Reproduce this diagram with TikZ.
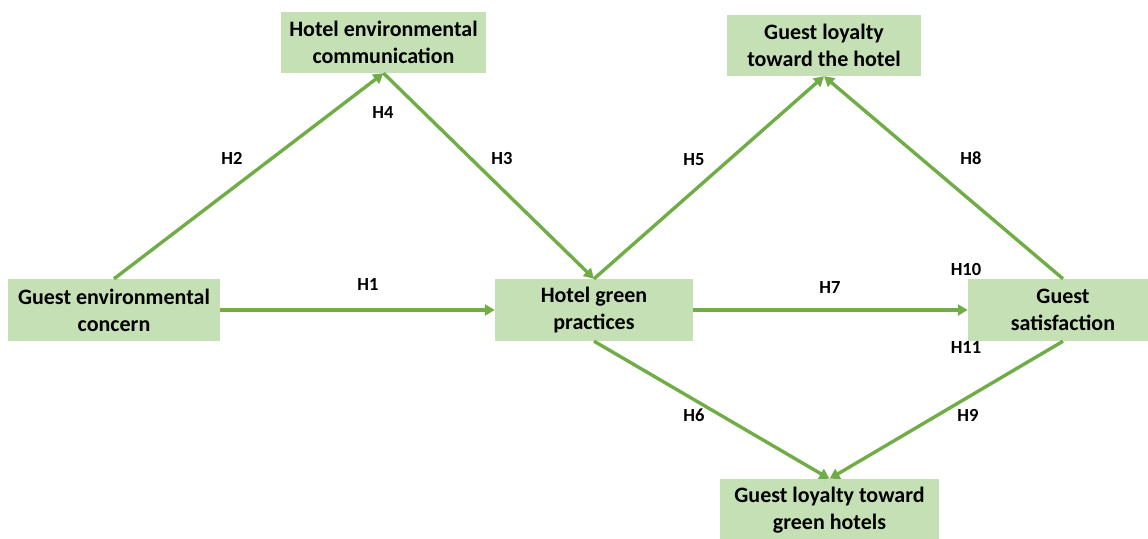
\documentclass[tikz,border=0pt]{standalone}
\usepackage{fontspec}
\setmainfont{Carlito}
\usetikzlibrary{arrows.meta}
\definecolor{boxgreen}{HTML}{C5E0B4}
\definecolor{arrowgreen}{HTML}{70AD47}
\tikzset{
  varbox/.style={fill=boxgreen, draw=none, align=center, inner sep=0.75pt,
    font=\fontsize{22}{27}\selectfont\bfseries},
  hyp/.style={draw=arrowgreen, line width=3.4pt,
    -{Triangle[length=10pt,width=11pt]}},
  hlabel/.style={inner sep=0.75pt, font=\fontsize{18.5}{22}\selectfont\bfseries}
}
\begin{document}
\begin{tikzpicture}[x=1pt,y=1pt,yscale=-1,xscale=1]
\useasboundingbox (0,0) rectangle (1148,538);
\begin{scope}
\clip (0,0) rectangle (1148,538);

%Shape: Rectangle [id:gec]
\node [varbox, minimum width=212pt, minimum height=62pt] (gec) at (114,310) {Guest environmental\\concern};
%Shape: Rectangle [id:hec]
\node [varbox, minimum width=205pt, minimum height=61pt] (hec) at (383.5,42.5) {Hotel environmental\\communication};
%Shape: Rectangle [id:hgp]
\node [varbox, minimum width=198pt, minimum height=62pt] (hgp) at (594,310) {Hotel green\\practices};
%Shape: Rectangle [id:gs]
\node [varbox, minimum width=190pt, minimum height=62pt] (gs) at (1063,310) {Guest\\satisfaction};
%Shape: Rectangle [id:glh]
\node [varbox, minimum width=194pt, minimum height=61pt] (glh) at (824,45.5) {Guest loyalty\\toward the hotel};
%Shape: Rectangle [id:glg]
\node [varbox, minimum width=219pt, minimum height=62pt] (glg) at (829.5,510) {Guest loyalty toward\\green hotels};

%Straight Lines [id:h1]
\draw [hyp] (gec.east) -- (hgp.west) ;
%Straight Lines [id:h2]
\draw [hyp] (gec.north) -- (hec.south) ;
%Straight Lines [id:h3]
\draw [hyp] (hec.south) -- (hgp.north) ;
%Straight Lines [id:h5]
\draw [hyp] (hgp.north) -- (glh.south) ;
%Straight Lines [id:h8]
\draw [hyp] (gs.north) -- (glh.south) ;
%Straight Lines [id:h7]
\draw [hyp] (hgp.east) -- (gs.west) ;
%Straight Lines [id:h6]
\draw [hyp] (hgp.south) -- (glg.north) ;
%Straight Lines [id:h9]
\draw [hyp] (gs.south) -- (glg.north) ;

% Text Node
\node [hlabel] (lh1) at (368,284) {H1};
% Text Node
\node [hlabel] (lh2) at (232,158) {H2};
% Text Node
\node [hlabel] (lh3) at (502,158) {H3};
% Text Node
\node [hlabel] (lh4) at (383,112) {H4};
% Text Node
\node [hlabel] (lh5) at (694,160) {H5};
% Text Node
\node [hlabel] (lh6) at (694,415) {H6};
% Text Node
\node [hlabel] (lh7) at (830,287) {H7};
% Text Node
\node [hlabel] (lh8) at (971,158) {H8};
% Text Node
\node [hlabel] (lh9) at (968,415) {H9};
% Text Node
\node [hlabel] (lh10) at (966,269) {H10};
% Text Node
\node [hlabel] (lh11) at (966,347) {H11};
\end{scope}
\end{tikzpicture}
\end{document}
